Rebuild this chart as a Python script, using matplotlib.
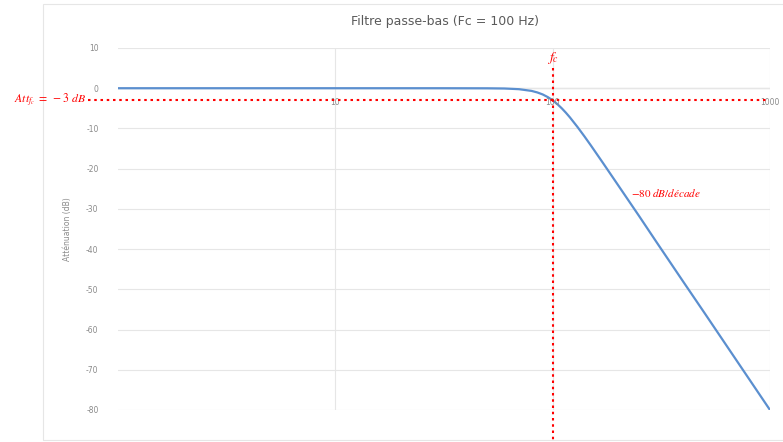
import matplotlib.pyplot as plt
from matplotlib.patches import Rectangle
from matplotlib.ticker import FixedLocator, NullLocator

# valeurs
frequences = [1, 10, 30, 50, 60, 70, 80, 85, 90, 95, 100, 105, 110, 115, 120, 130, 140,
              150, 170, 200, 250, 300, 400, 500, 700, 1000]
attenuation = [0, 0, 0, -0.02, -0.07, -0.24, -0.67, -1.05, -1.55, -2.21, -3, -3.94,
               -4.97, -6.08, -7.24, -9.62, -11.97, -14.25, -18.5, -24.1, -31.8, -38.2,
               -48.2, -55.9, -67.6, -80]

y_ticks = [10, 0, -10, -20, -30, -40, -50, -60, -70, -80]
x_ticks = [10, 100, 1000]
x_labels = ["10", "100", "1000"]

fc = 100
att_fc = -3

plt.rcParams["mathtext.fontset"] = "stix"
plt.rcParams["axes.unicode_minus"] = False

fig = plt.figure(figsize=(7.83, 4.42), dpi=100)
fig.patches.append(Rectangle((43 / 783, 0.005), 0.99, 0.985, transform=fig.transFigure,
                             fill=False, edgecolor="#e6e6e6", lw=0.8))
ax = fig.add_axes([118 / 783, 1 - 410 / 442, 652 / 783, 362 / 442])

ax.set_xscale("log")
ax.set_xlim(1, 1000)
ax.set_ylim(-80, 10)

ax.plot(frequences, attenuation, color="#5b8fcf", lw=1.6, zorder=3)

# grille type Excel
ax.xaxis.set_major_locator(FixedLocator(x_ticks))
ax.xaxis.set_minor_locator(NullLocator())
ax.set_yticks(y_ticks)
ax.grid(True, color="#e6e6e6", lw=0.8)
for s in ax.spines.values():
    s.set_visible(False)
ax.axhline(0, color="#cccccc", lw=0.9, zorder=1)
ax.tick_params(length=0, labelsize=5.5, labelcolor="#8a8a8a")
ax.tick_params(axis="y", pad=14)
ax.set_xticklabels([])
for xt, lab in zip(x_ticks, x_labels):
    ax.text(xt, -3.6, lab, ha="center", va="center", fontsize=5.5, color="#8a8a8a")

ax.set_ylabel("Atténuation (dB)", fontsize=5.5, color="#8a8a8a", labelpad=10)
fig.text(0.568, 1 - 22 / 442, "Filtre passe-bas (Fc = 100 Hz)", ha="center", va="center",
         fontsize=9, color="#5a5a5a")

# annotations en rouge
ax.plot([0.73, 960], [att_fc, att_fc], color="red", ls=(0, (1.2, 1.8)), lw=1.5,
        clip_on=False, zorder=4)
ax.plot([fc, fc], [5, -87.6], color="red", ls=(0, (1.2, 1.8)), lw=1.5,
        clip_on=False, zorder=4)
ax.text(fc, 7.6, r"$f_c$", color="red", ha="center", va="center", fontsize=10)
ax.text(331, -26.1, r"$-80\ dB/décade$", color="red", ha="center", va="center", fontsize=8)
fig.text(86 / 783, 1 - 100 / 442, r"$Att_{f_c}\ =\ -3\ dB$", color="red",
         ha="right", va="center", fontsize=8.5)

fig.savefig("out.png", dpi=100)
